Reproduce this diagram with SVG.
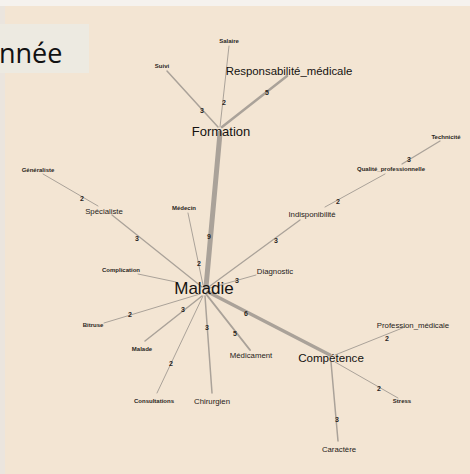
<svg xmlns="http://www.w3.org/2000/svg" width="470" height="474" viewBox="0 0 470 474">
  <style>
    .e { stroke: #aaa299; stroke-linecap: round; fill: none; }
    .w { font-family: "Liberation Sans", Arial, sans-serif; font-size: 7px; font-weight: bold; fill: #2a2622; text-anchor: middle; }
    .s { font-family: "Liberation Sans", Arial, sans-serif; font-size: 6px; font-weight: bold; fill: #2a2622; text-anchor: middle; }
    .m { font-family: "Liberation Sans", Arial, sans-serif; font-size: 7.8px; fill: #1e1b18; text-anchor: middle; }
    .l { font-family: "Liberation Sans", Arial, sans-serif; fill: #141210; text-anchor: middle; }
  </style>

  <!-- page and plot background -->
  <rect x="0" y="0" width="470" height="474" fill="#f5f2ee"/>
  <rect x="0" y="6" width="6" height="468" fill="#ebe5de"/>
  <rect x="5" y="6" width="465" height="468" fill="#f3e5d3"/>

  <!-- connectors -->
  <g id="edges">
    <line class="e" x1="206" y1="287" x2="220" y2="133" stroke-width="5"/>
    <line class="e" x1="218" y1="127" x2="167" y2="71" stroke-width="1.5"/>
    <line class="e" x1="220" y1="127" x2="229" y2="46" stroke-width="1"/>
    <line class="e" x1="222" y1="127" x2="287" y2="76" stroke-width="2.5"/>
    <line class="e" x1="203" y1="285" x2="188" y2="213" stroke-width="1"/>
    <line class="e" x1="202" y1="287" x2="112" y2="215" stroke-width="1.3"/>
    <line class="e" x1="98" y1="206" x2="43" y2="174" stroke-width="1"/>
    <line class="e" x1="176" y1="282" x2="138" y2="274" stroke-width="1"/>
    <line class="e" x1="210" y1="288" x2="256" y2="275" stroke-width="1"/>
    <line class="e" x1="210" y1="286" x2="300" y2="220" stroke-width="1.3"/>
    <line class="e" x1="325" y1="207" x2="385" y2="174" stroke-width="1"/>
    <line class="e" x1="402" y1="164" x2="440" y2="141" stroke-width="1.3"/>
    <line class="e" x1="208" y1="292" x2="330" y2="355" stroke-width="3.5"/>
    <line class="e" x1="206" y1="294" x2="250" y2="350" stroke-width="2"/>
    <line class="e" x1="205" y1="296" x2="212" y2="393" stroke-width="1.5"/>
    <line class="e" x1="203" y1="296" x2="157" y2="393" stroke-width="1"/>
    <line class="e" x1="202" y1="296" x2="145" y2="341" stroke-width="1.5"/>
    <line class="e" x1="200" y1="294" x2="104" y2="323" stroke-width="1"/>
    <line class="e" x1="335" y1="355" x2="405" y2="327" stroke-width="1"/>
    <line class="e" x1="335" y1="362" x2="398" y2="398" stroke-width="1"/>
    <line class="e" x1="331" y1="362" x2="338" y2="441" stroke-width="1.5"/>

    <!-- edge weights -->
    <text class="w" x="209" y="239">9</text>
    <text class="w" x="202" y="113">3</text>
    <text class="w" x="224" y="105">2</text>
    <text class="w" x="267" y="95">5</text>
    <text class="w" x="199" y="266">2</text>
    <text class="w" x="137" y="241">3</text>
    <text class="w" x="82" y="201">2</text>
    <text class="w" x="237" y="283">3</text>
    <text class="w" x="276" y="243">3</text>
    <text class="w" x="338" y="204">2</text>
    <text class="w" x="409" y="162">3</text>
    <text class="w" x="246" y="316">6</text>
    <text class="w" x="235" y="336">5</text>
    <text class="w" x="207" y="330">3</text>
    <text class="w" x="171" y="366">2</text>
    <text class="w" x="183" y="312">3</text>
    <text class="w" x="130" y="317">2</text>
    <text class="w" x="387" y="341">2</text>
    <text class="w" x="379" y="391">2</text>
    <text class="w" x="337" y="422">3</text>
  </g>

  <!-- title box -->
  <g id="title">
    <rect x="0" y="24" width="89" height="49" fill="#edeae1"/>
    <text x="-1" y="63" font-family="'Open Sans', 'Noto Sans', sans-serif" font-size="27" fill="#111">nnée</text>
  </g>

  <!-- nodes -->
  <g id="n-formation"><text class="l" x="221" y="136" font-size="13">Formation</text></g>
  <g id="n-maladie"><text class="l" x="204" y="294" font-size="17">Maladie</text></g>
  <g id="n-competence"><text class="l" x="331" y="362" font-size="11.6">Compétence</text></g>
  <g id="n-responsabilite"><text class="l" x="289" y="75" font-size="11.4">Responsabilité_médicale</text></g>
  <g id="n-suivi"><text class="s" x="162" y="68">Suivi</text></g>
  <g id="n-salaire"><text class="s" x="229" y="43" font-size="5.5">Salaire</text></g>
  <g id="n-medecin"><text class="s" x="184" y="210" font-size="4.6">Médecin</text></g>
  <g id="n-specialiste"><text class="m" x="104" y="214" font-size="7.4">Spécialiste</text></g>
  <g id="n-generaliste"><text class="s" x="38" y="172" font-size="5.2">Généraliste</text></g>
  <g id="n-complication"><text class="s" x="121" y="272" font-size="5.3">Complication</text></g>
  <g id="n-diagnostic"><text class="m" x="275" y="274" font-size="8.6">Diagnostic</text></g>
  <g id="n-indisponibilite"><text class="m" x="312" y="217" font-size="7.4">Indisponibilité</text></g>
  <g id="n-qualite"><text class="s" x="391" y="171" font-size="5.5">Qualité_professionnelle</text></g>
  <g id="n-technicite"><text class="s" x="446" y="139" font-size="6.3">Technicité</text></g>
  <g id="n-bitruse"><text class="s" x="93" y="327" font-size="5.5">Bitruse</text></g>
  <g id="n-malade"><text class="s" x="142" y="351" font-size="5.5">Malade</text></g>
  <g id="n-consultations"><text class="s" x="154" y="403" font-size="5.6">Consultations</text></g>
  <g id="n-chirurgien"><text class="m" x="212" y="404">Chirurgien</text></g>
  <g id="n-medicament"><text class="m" x="251" y="358">Médicament</text></g>
  <g id="n-caractere"><text class="m" x="339" y="452" font-size="7.3">Caractère</text></g>
  <g id="n-profession"><text class="m" x="413" y="328" font-size="7.6">Profession_médicale</text></g>
  <g id="n-stress"><text class="s" x="402" y="403" font-size="5.4">Stress</text></g>
</svg>
